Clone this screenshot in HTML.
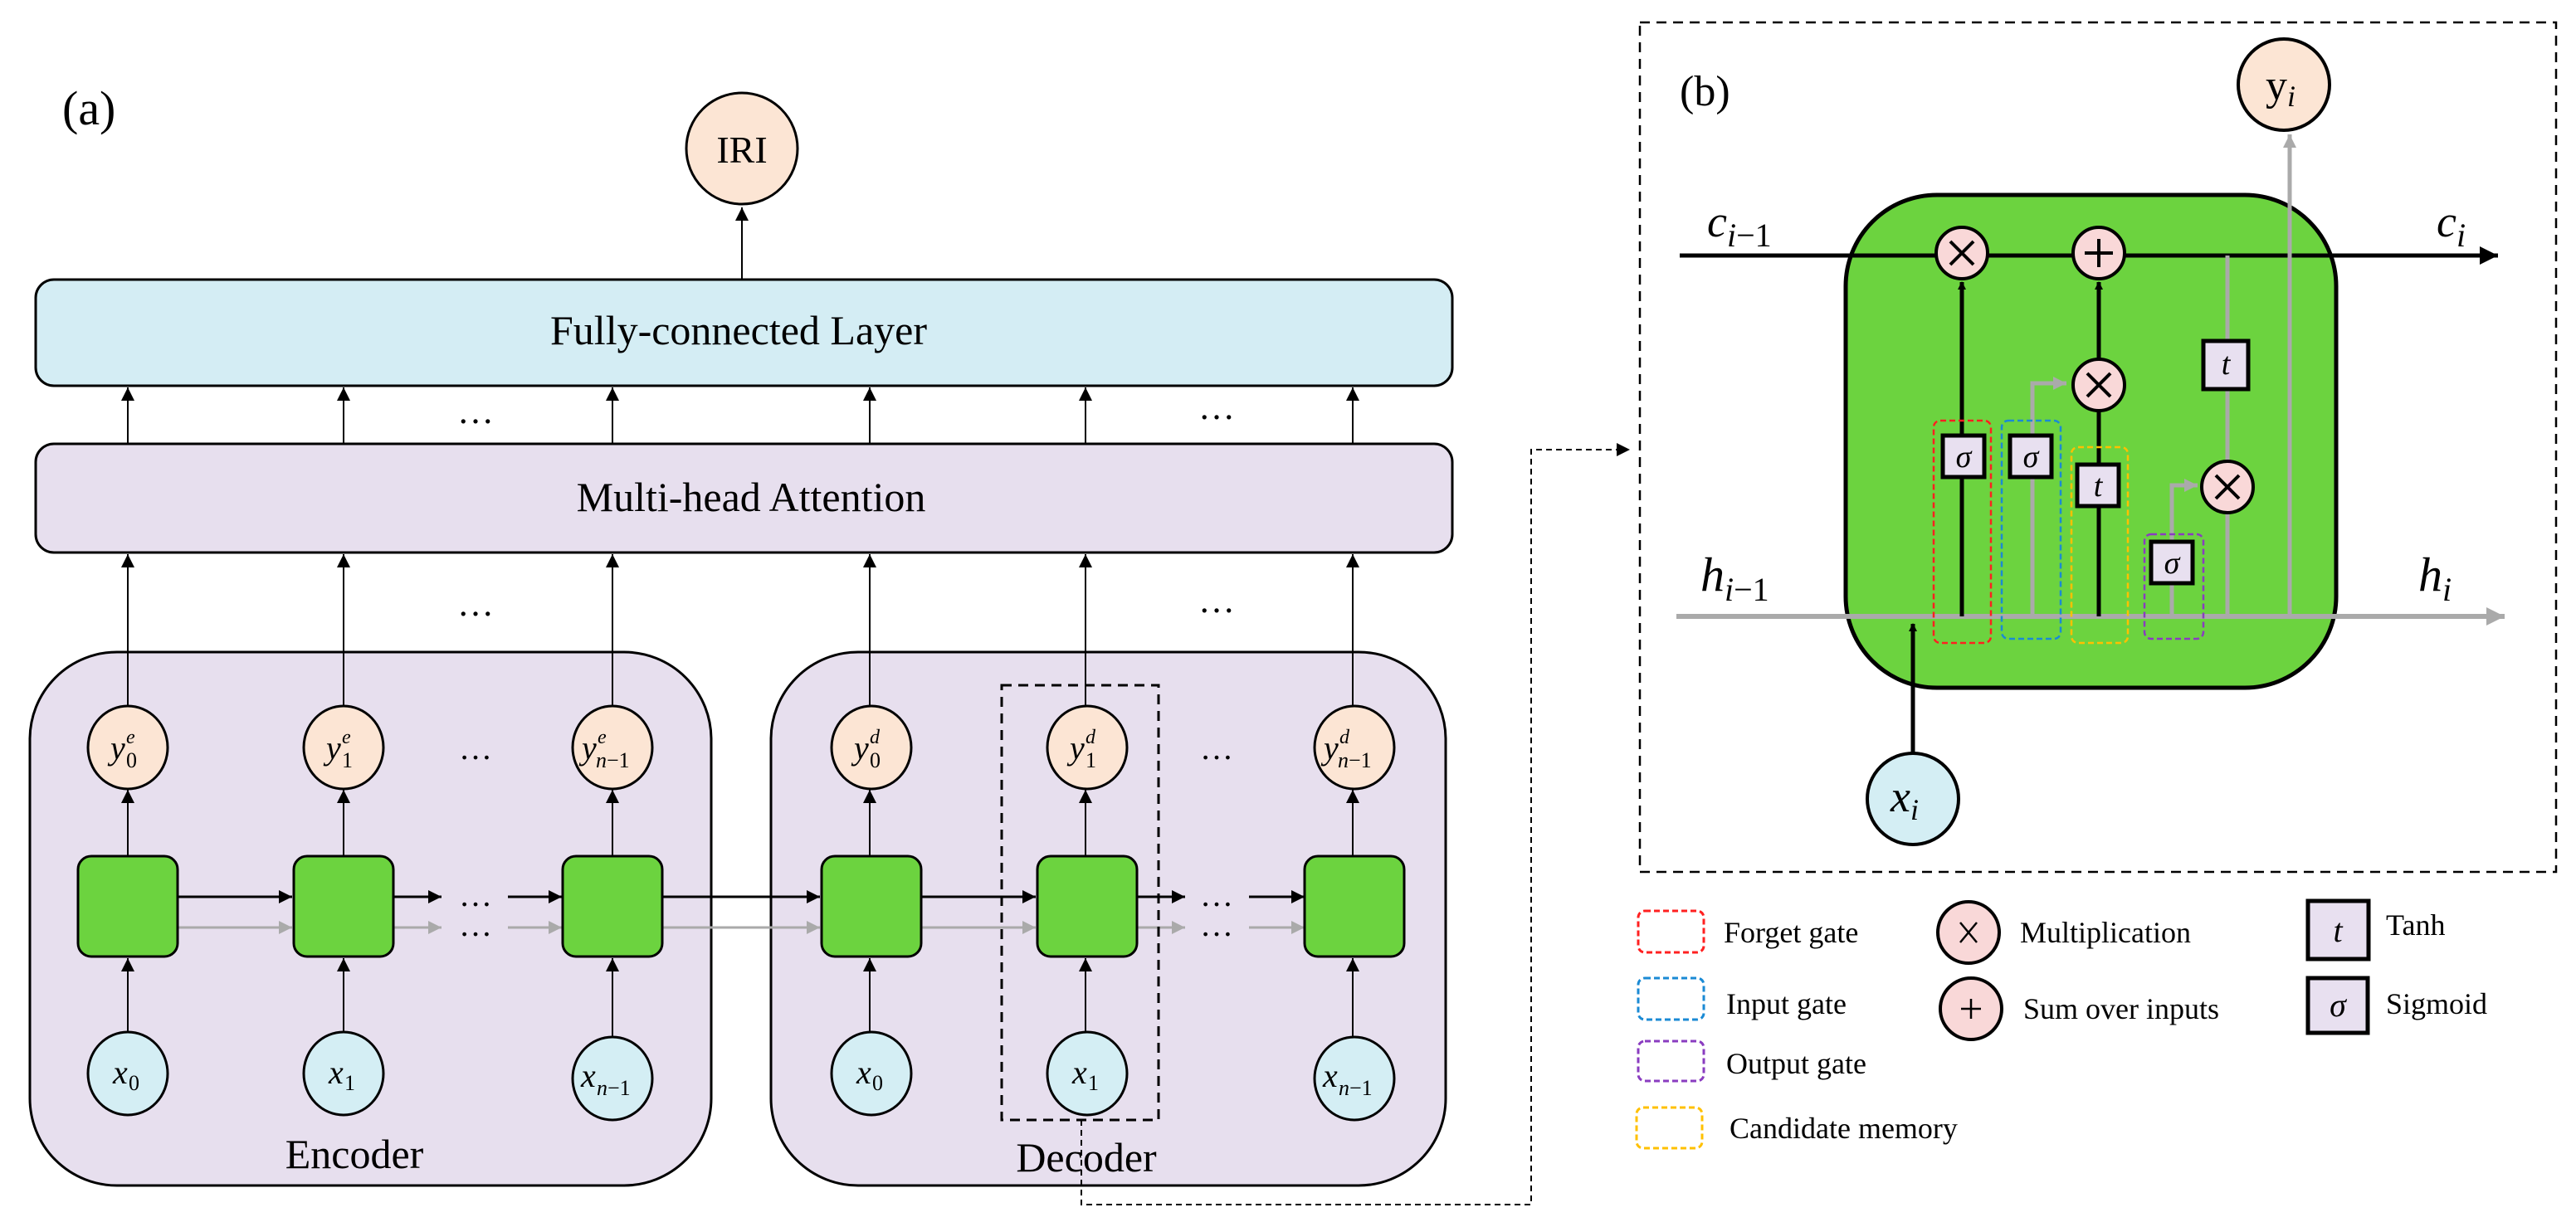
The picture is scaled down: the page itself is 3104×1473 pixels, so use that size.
<!DOCTYPE html>
<html><head><meta charset="utf-8"><style>
html,body{margin:0;padding:0;background:#fff;}
svg{display:block;font-family:"Liberation Serif",serif;}
.m{font-style:italic;}
</style></head><body>
<svg width="3104" height="1473" viewBox="0 0 3104 1473" xmlns="http://www.w3.org/2000/svg">
<defs>
<marker id="ab" markerWidth="10" markerHeight="10" refX="9" refY="5" orient="auto" markerUnits="userSpaceOnUse" viewBox="0 0 10 10"><path d="M0,0 L10,5 L0,10 z" fill="#000"/></marker>
<marker id="a" viewBox="0 0 10 10" refX="10" refY="5" markerWidth="22" markerHeight="16" orient="auto" markerUnits="userSpaceOnUse"><path d="M0,0 L10,5 L0,10 z" fill="#000"/></marker>
<marker id="ag" viewBox="0 0 10 10" refX="10" refY="5" markerWidth="22" markerHeight="16" orient="auto" markerUnits="userSpaceOnUse"><path d="M0,0 L10,5 L0,10 z" fill="#aaa"/></marker>
<marker id="aG" viewBox="0 0 10 10" refX="10" refY="5" markerWidth="28" markerHeight="22" orient="auto" markerUnits="userSpaceOnUse"><path d="M0,0 L10,5 L0,10 z" fill="#aaa"/></marker>
<marker id="aB" viewBox="0 0 10 10" refX="10" refY="5" markerWidth="28" markerHeight="22" orient="auto" markerUnits="userSpaceOnUse"><path d="M0,0 L10,5 L0,10 z" fill="#000"/></marker>
</defs>

<text x="75" y="150" font-size="58">(a)</text>

<!-- IRI -->
<circle cx="894" cy="179" r="67" fill="#fce5d4" stroke="#000" stroke-width="3"/>
<text x="894" y="196" font-size="46" text-anchor="middle">IRI</text>
<line x1="894" y1="337" x2="894" y2="250" stroke="#000" stroke-width="2" marker-end="url(#a)"/>

<!-- FC -->
<rect x="43" y="337" width="1707" height="128" rx="22" fill="#d4edf4" stroke="#000" stroke-width="3"/>
<text x="890" y="415" font-size="50" text-anchor="middle">Fully-connected Layer</text>
<!-- MHA -->
<rect x="43" y="535" width="1707" height="131" rx="22" fill="#e7dfee" stroke="#000" stroke-width="3"/>
<text x="905" y="616" font-size="50" text-anchor="middle">Multi-head Attention</text>

<g stroke="#000" stroke-width="2">
<line x1="154" y1="535" x2="154" y2="467" marker-end="url(#a)"/>
<line x1="414" y1="535" x2="414" y2="467" marker-end="url(#a)"/>
<line x1="738" y1="535" x2="738" y2="467" marker-end="url(#a)"/>
<line x1="1048" y1="535" x2="1048" y2="467" marker-end="url(#a)"/>
<line x1="1308" y1="535" x2="1308" y2="467" marker-end="url(#a)"/>
<line x1="1630" y1="535" x2="1630" y2="467" marker-end="url(#a)"/>
</g>
<text x="573" y="510" font-size="44" text-anchor="middle">…</text>
<text x="1466" y="505" font-size="44" text-anchor="middle">…</text>
<text x="573" y="742" font-size="44" text-anchor="middle">…</text>
<text x="1466" y="738" font-size="44" text-anchor="middle">…</text>

<!-- Encoder / Decoder boxes -->
<rect x="36" y="786" width="821" height="643" rx="105" fill="#e7dfee" stroke="#000" stroke-width="3"/>
<rect x="929" y="786" width="813" height="643" rx="105" fill="#e7dfee" stroke="#000" stroke-width="3"/>
<text x="427" y="1408" font-size="50" text-anchor="middle">Encoder</text>
<text x="1309" y="1412" font-size="50" text-anchor="middle">Decoder</text>

<g stroke="#000" stroke-width="2">
<line x1="154" y1="852" x2="154" y2="668" marker-end="url(#a)"/>
<line x1="414" y1="852" x2="414" y2="668" marker-end="url(#a)"/>
<line x1="738" y1="852" x2="738" y2="668" marker-end="url(#a)"/>
<line x1="1048" y1="852" x2="1048" y2="668" marker-end="url(#a)"/>
<line x1="1308" y1="852" x2="1308" y2="668" marker-end="url(#a)"/>
<line x1="1630" y1="852" x2="1630" y2="668" marker-end="url(#a)"/>
</g>

<g>
<g stroke="#000" stroke-width="2">
<line x1="154" y1="1032" x2="154" y2="952" marker-end="url(#a)"/>
<line x1="414" y1="1032" x2="414" y2="952" marker-end="url(#a)"/>
<line x1="738" y1="1032" x2="738" y2="952" marker-end="url(#a)"/>
<line x1="1048" y1="1032" x2="1048" y2="952" marker-end="url(#a)"/>
<line x1="1308" y1="1032" x2="1308" y2="952" marker-end="url(#a)"/>
<line x1="1630" y1="1032" x2="1630" y2="952" marker-end="url(#a)"/>
<line x1="154" y1="1245" x2="154" y2="1155" marker-end="url(#a)"/>
<line x1="414" y1="1245" x2="414" y2="1155" marker-end="url(#a)"/>
<line x1="738" y1="1252" x2="738" y2="1155" marker-end="url(#a)"/>
<line x1="1048" y1="1245" x2="1048" y2="1155" marker-end="url(#a)"/>
<line x1="1308" y1="1245" x2="1308" y2="1155" marker-end="url(#a)"/>
<line x1="1630" y1="1252" x2="1630" y2="1155" marker-end="url(#a)"/>
</g>
<g stroke-width="3">
<line x1="214" y1="1081" x2="352" y2="1081" stroke="#000" marker-end="url(#a)"/>
<line x1="474" y1="1081" x2="532" y2="1081" stroke="#000" marker-end="url(#a)"/>
<line x1="612" y1="1081" x2="677" y2="1081" stroke="#000" marker-end="url(#a)"/>
<line x1="798" y1="1081" x2="988" y2="1081" stroke="#000" marker-end="url(#a)"/>
<line x1="1110" y1="1081" x2="1248" y2="1081" stroke="#000" marker-end="url(#a)"/>
<line x1="1370" y1="1081" x2="1428" y2="1081" stroke="#000" marker-end="url(#a)"/>
<line x1="1505" y1="1081" x2="1572" y2="1081" stroke="#000" marker-end="url(#a)"/>
<line x1="214" y1="1118" x2="352" y2="1118" stroke="#aaa" marker-end="url(#ag)"/>
<line x1="474" y1="1118" x2="532" y2="1118" stroke="#aaa" marker-end="url(#ag)"/>
<line x1="612" y1="1118" x2="677" y2="1118" stroke="#aaa" marker-end="url(#ag)"/>
<line x1="798" y1="1118" x2="988" y2="1118" stroke="#aaa" marker-end="url(#ag)"/>
<line x1="1110" y1="1118" x2="1248" y2="1118" stroke="#aaa" marker-end="url(#ag)"/>
<line x1="1370" y1="1118" x2="1428" y2="1118" stroke="#aaa" marker-end="url(#ag)"/>
<line x1="1505" y1="1118" x2="1572" y2="1118" stroke="#aaa" marker-end="url(#ag)"/>
</g>
<text x="573" y="1092" font-size="40" text-anchor="middle">…</text>
<text x="573" y="1128" font-size="40" text-anchor="middle">…</text>
<text x="1466" y="1092" font-size="40" text-anchor="middle">…</text>
<text x="1466" y="1128" font-size="40" text-anchor="middle">…</text>
<text x="573" y="915" font-size="40" text-anchor="middle">…</text>
<text x="1466" y="915" font-size="40" text-anchor="middle">…</text>

<g fill="#6cd33f" stroke="#000" stroke-width="3">
<rect x="94" y="1032" width="120" height="121" rx="16"/>
<rect x="354" y="1032" width="120" height="121" rx="16"/>
<rect x="678" y="1032" width="120" height="121" rx="16"/>
<rect x="990" y="1032" width="120" height="121" rx="16"/>
<rect x="1250" y="1032" width="120" height="121" rx="16"/>
<rect x="1572" y="1032" width="120" height="121" rx="16"/>
</g>
<g fill="#fce5d4" stroke="#000" stroke-width="3">
<ellipse cx="154" cy="901" rx="48" ry="50"/>
<ellipse cx="414" cy="901" rx="48" ry="50"/>
<ellipse cx="738" cy="901" rx="48" ry="50"/>
<ellipse cx="1050" cy="901" rx="48" ry="50"/>
<ellipse cx="1310" cy="901" rx="48" ry="50"/>
<ellipse cx="1632" cy="901" rx="48" ry="50"/>
</g>
<g fill="#d4eef4" stroke="#000" stroke-width="3">
<ellipse cx="154" cy="1294" rx="48" ry="50"/>
<ellipse cx="414" cy="1294" rx="48" ry="50"/>
<ellipse cx="738" cy="1300" rx="48" ry="50"/>
<ellipse cx="1050" cy="1294" rx="48" ry="50"/>
<ellipse cx="1310" cy="1294" rx="48" ry="50"/>
<ellipse cx="1632" cy="1300" rx="48" ry="50"/>
</g>
<g class="m" font-size="40">
<text x="133" y="915">y</text><text x="152" y="896" font-size="24">e</text><text x="152" y="925" font-size="26" font-style="normal">0</text>
<text x="393" y="915">y</text><text x="412" y="896" font-size="24">e</text><text x="412" y="925" font-size="26" font-style="normal">1</text>
<text x="701" y="915">y</text><text x="720" y="896" font-size="24">e</text><text x="718" y="925" font-size="26">n<tspan font-style="normal">−1</tspan></text>
<text x="1029" y="915">y</text><text x="1048" y="896" font-size="24">d</text><text x="1048" y="925" font-size="26" font-style="normal">0</text>
<text x="1289" y="915">y</text><text x="1308" y="896" font-size="24">d</text><text x="1308" y="925" font-size="26" font-style="normal">1</text>
<text x="1595" y="915">y</text><text x="1614" y="896" font-size="24">d</text><text x="1612" y="925" font-size="26">n<tspan font-style="normal">−1</tspan></text>
<text x="136" y="1306">x</text><text x="155" y="1314" font-size="26" font-style="normal">0</text>
<text x="396" y="1306">x</text><text x="415" y="1314" font-size="26" font-style="normal">1</text>
<text x="700" y="1310">x</text><text x="719" y="1320" font-size="26">n<tspan font-style="normal">−1</tspan></text>
<text x="1032" y="1306">x</text><text x="1051" y="1314" font-size="26" font-style="normal">0</text>
<text x="1292" y="1306">x</text><text x="1311" y="1314" font-size="26" font-style="normal">1</text>
<text x="1594" y="1310">x</text><text x="1613" y="1320" font-size="26">n<tspan font-style="normal">−1</tspan></text>
</g>
</g>

<rect x="1207" y="826" width="189" height="524" fill="none" stroke="#000" stroke-width="3" stroke-dasharray="12,8"/>
<polyline points="1303,1350 1303,1452 1845,1452 1845,542 1950,542" fill="none" stroke="#000" stroke-width="2" stroke-dasharray="7,5"/>
<path d="M1948,534 L1964,542 L1948,550 z" fill="#000"/>

<rect x="1976" y="27" width="1104" height="1024" fill="none" stroke="#000" stroke-width="2.5" stroke-dasharray="12,8"/>
<text x="2024" y="127" font-size="52">(b)</text>

<rect x="2224" y="235" width="591" height="594" rx="110" fill="#6cd33f" stroke="#000" stroke-width="5"/>

<line x1="2024" y1="308" x2="3010" y2="308" stroke="#000" stroke-width="5" marker-end="url(#aB)"/>
<text x="2057" y="285" font-size="54" class="m">c<tspan font-size="40" dy="12">i</tspan><tspan font-size="40" font-style="normal">−1</tspan></text>
<text x="2936" y="285" font-size="54" class="m">c<tspan font-size="40" dy="12">i</tspan></text>
<line x1="2020" y1="743" x2="3018" y2="743" stroke="#aaa" stroke-width="6" marker-end="url(#aG)"/>
<text x="2049" y="712" font-size="58" class="m">h<tspan font-size="40" dy="12">i</tspan><tspan font-size="40" font-style="normal">−1</tspan></text>
<text x="2914" y="712" font-size="58" class="m">h<tspan font-size="40" dy="12">i</tspan></text>

<g stroke="#aaa" stroke-width="5" fill="none">
<polyline points="2449,743 2449,462 2490,462" marker-end="url(#ag)"/>
<polyline points="2617,743 2617,585 2648,585" marker-end="url(#ag)"/>
<polyline points="2684,308 2684,743"/>
<line x1="2759" y1="743" x2="2759" y2="162" marker-end="url(#ag)"/>
</g>
<g stroke="#000" stroke-width="5">
<line x1="2364" y1="743" x2="2364" y2="340" marker-end="url(#ab)"/>
<line x1="2529" y1="743" x2="2529" y2="496"/>
<line x1="2529" y1="432" x2="2529" y2="340" marker-end="url(#ab)"/>
<line x1="2305" y1="910" x2="2305" y2="752" marker-end="url(#ab)"/>
</g>

<g fill="none" stroke-width="2.5" stroke-dasharray="7,4">
<rect x="2330" y="507" width="69" height="268" rx="8" stroke="#ff2020"/>
<rect x="2412" y="507" width="71" height="263" rx="8" stroke="#1a8ad4"/>
<rect x="2496" y="539" width="68" height="236" rx="8" stroke="#ffc000"/>
<rect x="2584" y="644" width="71" height="126" rx="8" stroke="#8a3cc0"/>
</g>

<g fill="#f9d8d8" stroke="#000" stroke-width="4">
<circle cx="2364" cy="305" r="31"/>
<circle cx="2529" cy="305" r="31"/>
<circle cx="2529" cy="464" r="31"/>
<circle cx="2684" cy="587" r="31"/>
</g>
<g stroke="#000" stroke-width="4">
<path d="M2350,291 L2378,319 M2378,291 L2350,319"/>
<path d="M2515,450 L2543,478 M2543,450 L2515,478"/>
<path d="M2670,573 L2698,601 M2698,573 L2670,601"/>
<path d="M2529,288 L2529,322 M2512,305 L2546,305"/>
</g>
<g fill="#e8e0f0" stroke="#000" stroke-width="5">
<rect x="2341" y="525" width="50" height="50"/>
<rect x="2422" y="525" width="50" height="50"/>
<rect x="2503" y="560" width="50" height="50"/>
<rect x="2592" y="653" width="50" height="50"/>
<rect x="2655" y="411" width="54" height="58"/>
</g>
<g class="m" font-size="38" text-anchor="middle">
<text x="2366" y="563">σ</text>
<text x="2447" y="563">σ</text>
<text x="2528" y="598">t</text>
<text x="2617" y="691">σ</text>
<text x="2682" y="451">t</text>
</g>

<circle cx="2752" cy="102" r="55" fill="#fce5d4" stroke="#000" stroke-width="4"/>
<text x="2730" y="120" font-size="52">y<tspan font-size="36" class="m" dy="8">i</tspan></text>
<circle cx="2305" cy="963" r="55" fill="#d4eef4" stroke="#000" stroke-width="4"/>
<text x="2278" y="978" font-size="54" class="m">x<tspan font-size="36" dy="10">i</tspan></text>

<g fill="none" stroke-width="3" stroke-dasharray="7,4">
<rect x="1974" y="1098" width="79" height="50" rx="8" stroke="#ff2020"/>
<rect x="1974" y="1179" width="79" height="50" rx="8" stroke="#1a8ad4"/>
<rect x="1974" y="1255" width="79" height="48" rx="8" stroke="#8a3cc0"/>
<rect x="1972" y="1335" width="79" height="49" rx="8" stroke="#ffc000"/>
</g>
<g font-size="36">
<text x="2077" y="1136">Forget gate</text>
<text x="2080" y="1222">Input gate</text>
<text x="2080" y="1294">Output gate</text>
<text x="2084" y="1372">Candidate memory</text>
<text x="2434" y="1136">Multiplication</text>
<text x="2438" y="1228">Sum over inputs</text>
<text x="2875" y="1127">Tanh</text>
<text x="2875" y="1222">Sigmoid</text>
</g>
<g fill="#f9d8d8" stroke="#000" stroke-width="4">
<circle cx="2372" cy="1124" r="37"/>
<circle cx="2375" cy="1216" r="37"/>
</g>
<g stroke="#000" stroke-width="2.5">
<path d="M2362,1112 L2382,1136 M2382,1112 L2362,1136"/>
<path d="M2375,1204 L2375,1228 M2363,1216 L2387,1216"/>
</g>
<g fill="#e8e0f0" stroke="#000" stroke-width="5">
<rect x="2781" y="1086" width="73" height="70"/>
<rect x="2781" y="1179" width="72" height="66"/>
</g>
<text x="2817" y="1135" font-size="40" class="m" text-anchor="middle">t</text>
<text x="2817" y="1225" font-size="40" class="m" text-anchor="middle">σ</text>
</svg>
</body></html>
